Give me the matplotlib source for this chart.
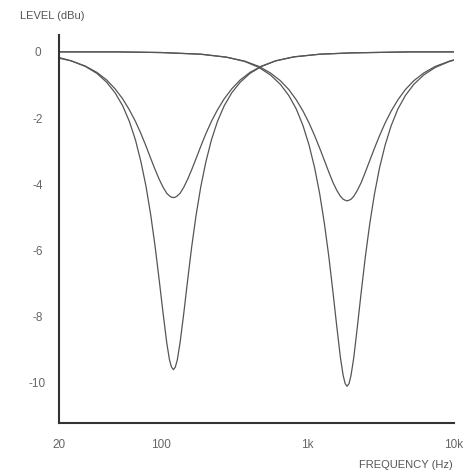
import matplotlib
matplotlib.use("Agg")
import matplotlib.pyplot as plt
from matplotlib.ticker import FixedLocator, NullLocator

# ---- data ----
freq_low = [20, 24.2, 30.3, 36.3, 42.4, 48.4, 54.5, 60.5, 66.6, 72.6, 78.7, 84.7,
            90.8, 96.8, 102.9, 108.9, 113.7, 117.4, 121, 124.7, 128.7, 134.4, 142.4,
            151.3, 161.3, 172.9, 186.2, 201.7, 220, 242, 268.9, 302.5, 345.7, 403.3,
            484, 605, 806.7, 1210, 2000, 5000, 10000]
low_deep = [-0.19, -0.27, -0.44, -0.65, -0.92, -1.24, -1.63, -2.10, -2.66, -3.32, -4.07,
            -4.93, -5.89, -6.90, -7.90, -8.78, -9.30, -9.52, -9.60, -9.52, -9.30, -8.78,
            -7.90, -6.90, -5.89, -4.93, -4.07, -3.32, -2.66, -2.10, -1.63, -1.24, -0.92,
            -0.65, -0.44, -0.27, -0.15, -0.07, -0.03, 0.0, 0.0]
low_shallow = [-0.17, -0.27, -0.43, -0.62, -0.85, -1.12, -1.42, -1.75, -2.10, -2.47, -2.85,
               -3.22, -3.56, -3.85, -4.09, -4.27, -4.35, -4.39, -4.40, -4.39, -4.35, -4.27,
               -4.09, -3.85, -3.56, -3.22, -2.85, -2.47, -2.10, -1.75, -1.42, -1.12, -0.85,
               -0.62, -0.43, -0.27, -0.15, -0.07, -0.03, 0.0, 0.0]

freq_high = [20, 50, 100, 186, 279, 372, 465, 558, 651, 744, 837, 930, 1023, 1116, 1209,
             1302, 1395, 1488, 1581, 1674, 1748, 1804, 1860, 1918, 1979, 2067, 2188, 2325,
             2480, 2657, 2862, 3100, 3382, 3720, 4133, 4650, 5314, 6200, 7440, 9300, 10000]
high_deep = [0.0, 0.0, -0.02, -0.07, -0.16, -0.29, -0.47, -0.70, -0.98, -1.32, -1.73, -2.23,
             -2.82, -3.50, -4.29, -5.19, -6.18, -7.24, -8.29, -9.23, -9.77, -10.02, -10.10,
             -10.02, -9.77, -9.23, -8.29, -7.24, -6.18, -5.19, -4.29, -3.50, -2.82, -2.23,
             -1.73, -1.32, -0.98, -0.70, -0.47, -0.29, -0.25]
high_shallow = [0.0, 0.0, -0.02, -0.07, -0.16, -0.28, -0.44, -0.64, -0.87, -1.14, -1.45,
                -1.79, -2.15, -2.53, -2.91, -3.28, -3.63, -3.94, -4.18, -4.36, -4.45, -4.48,
                -4.50, -4.48, -4.45, -4.36, -4.18, -3.94, -3.63, -3.28, -2.91, -2.53, -2.15,
                -1.79, -1.45, -1.14, -0.87, -0.64, -0.44, -0.28, -0.24]

x_ticks = [20, 100, 1000, 10000]
x_tick_labels = ["20", "100", "1k", "10k"]
y_ticks = [0, -2, -4, -6, -8, -10]
y_tick_labels = ["0", "-2", "-4", "-6", "-8", "-10"]

# ---- figure ----
plt.rcParams['font.family'] = ['Liberation Sans', 'DejaVu Sans']
fig = plt.figure(figsize=(4.72, 4.72), dpi=100)
ax = fig.add_axes([59/472, 1 - 423/472, (454 - 59)/472, (423 - 35)/472])

curve_color = "#555555"
for f, v in [(freq_low, low_deep), (freq_low, low_shallow),
             (freq_high, high_deep), (freq_high, high_shallow)]:
    ax.plot(f, v, color=curve_color, lw=0.9, solid_joinstyle='round')

ax.set_xscale('log')
ax.set_xlim(20, 10000)
ax.set_ylim(-11.21, 0.51)

ax.xaxis.set_major_locator(FixedLocator(x_ticks))
ax.xaxis.set_minor_locator(NullLocator())
ax.set_xticklabels(x_tick_labels)
ax.set_yticks(y_ticks)
ax.set_yticklabels(y_tick_labels)

ax.tick_params(axis='both', length=0, labelsize=8.5, labelcolor="#666666")
ax.tick_params(axis='x', pad=11.5)
ax.tick_params(axis='y', pad=15.5)
for lab in ax.get_yticklabels():
    lab.set_horizontalalignment('center')

for s in ['top', 'right']:
    ax.spines[s].set_visible(False)
for s in ['left', 'bottom']:
    ax.spines[s].set_color("#333333")
    ax.spines[s].set_linewidth(1.5)

fig.text(20/472, 1 - 16/472, "LEVEL (dBu)", fontsize=8, color="#555555",
         ha='left', va='center')
fig.text(453/472, 1 - 465/472, "FREQUENCY (Hz)", fontsize=8, color="#555555",
         ha='right', va='center')

fig.savefig("out.png", dpi=100, facecolor="white")
